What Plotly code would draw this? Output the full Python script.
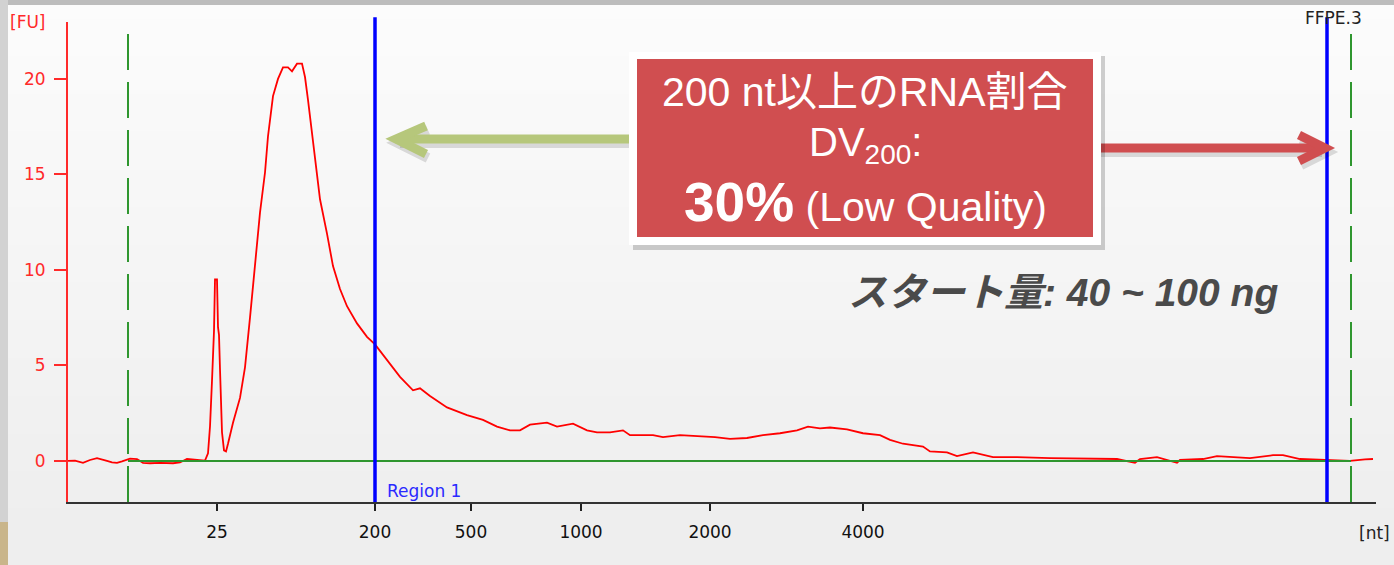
import plotly.graph_objects as go

# ---------------- data (migration time [s] vs fluorescence [FU]) ----------------
time_s = [19.00, 19.28, 19.60, 19.88, 20.16, 20.40, 20.56, 20.76, 20.96, 21.16, 21.48, 21.76,
          22.00, 22.28, 22.68, 23.20, 23.48, 23.76, 24.16, 24.48, 24.60, 24.68, 24.76, 24.84,
          24.88, 24.96, 25.00, 25.04, 25.08, 25.16, 25.24, 25.32, 25.40, 25.60, 25.88, 26.08,
          26.28, 26.48, 26.68, 26.88, 27.00, 27.20, 27.40, 27.60, 27.80, 27.96, 28.16, 28.36,
          28.48, 28.60, 28.76, 28.88, 29.08, 29.36, 29.60, 29.88, 30.16, 30.56, 30.96, 31.28,
          31.76, 32.28, 32.80, 33.08, 33.48, 34.16, 34.96, 35.60, 36.16, 36.68, 37.08, 37.48,
          38.16, 38.56, 39.20, 39.76, 40.16, 40.68, 41.20, 41.48, 42.40, 42.80, 43.48, 44.16,
          44.88, 45.48, 46.16, 46.80, 47.48, 48.16, 48.60, 49.08, 49.48, 50.16, 50.80, 51.48,
          51.88, 52.40, 53.20, 53.48, 54.16, 54.56, 55.20, 56.00, 56.96, 58.28, 59.48, 60.96,
          61.68, 61.88, 62.56, 63.36, 63.48, 64.40, 64.96, 66.28, 67.20, 67.60, 68.28, 69.36,
          70.28, 70.88, 71.20]
fu = [0.00, 0.02, -0.10, 0.05, 0.15, 0.08, 0.00, -0.08, -0.10, -0.02, 0.12, 0.10,
      -0.10, -0.12, -0.10, -0.12, -0.08, 0.10, 0.05, 0.02, 0.40, 1.80, 4.20, 6.80,
      9.50, 9.50, 7.00, 6.60, 4.80, 1.50, 0.55, 0.50, 0.90, 2.00, 3.30, 4.90,
      7.50, 10.20, 13.00, 15.10, 17.00, 19.10, 20.00, 20.60, 20.60, 20.40, 20.80, 20.80,
      20.10, 18.90, 17.20, 15.90, 13.70, 11.90, 10.20, 9.00, 8.10, 7.20, 6.50, 6.10,
      5.30, 4.40, 3.70, 3.80, 3.40, 2.80, 2.40, 2.15, 1.80, 1.60, 1.60, 1.90,
      2.00, 1.80, 1.95, 1.60, 1.50, 1.50, 1.60, 1.35, 1.35, 1.25, 1.35, 1.30,
      1.25, 1.15, 1.20, 1.35, 1.45, 1.60, 1.80, 1.70, 1.75, 1.65, 1.45, 1.35,
      1.10, 0.90, 0.75, 0.50, 0.45, 0.25, 0.45, 0.20, 0.20, 0.15, 0.12, 0.10,
      -0.10, 0.10, 0.20, -0.10, 0.05, 0.10, 0.25, 0.15, 0.30, 0.30, 0.10, 0.05,
      0.00, 0.08, 0.10]

tick_time = [24.96, 31.28, 35.12, 39.52, 44.68, 50.80]
tick_nt = ["25", "200", "500", "1000", "2000", "4000"]
y_ticks = [0, 5, 10, 15, 20]

marker_times = [21.40, 70.32]      # lower / upper marker (green dashed)
region_bounds = [31.28, 69.36]     # Region 1: 200 nt .. end (blue)

# ---------------- layout geometry (pixels) ----------------
W, H = 1394, 565
L, R, T, B = 68, 18, 22, 63
PW, PH = W - L - R, H - T - B


def px(x):
    return (x - L) / PW


def py(y):
    return (H - B - y) / PH


fig = go.Figure()

fig.add_trace(go.Scatter(x=time_s, y=fu, mode="lines",
                         line=dict(color="#ff0000", width=1.8), hoverinfo="skip"))
fig.add_trace(go.Scatter(x=marker_times, y=[0, 0], mode="lines",
                         line=dict(color="#2f962f", width=2), hoverinfo="skip"))

shapes = []
# background gradient bands
n = 30
for i in range(n):
    c = int(252 - (252 - 238) * i / (n - 1))
    shapes.append(dict(type="rect", xref="paper", yref="paper", layer="below",
                       x0=px(0), x1=px(W), y0=py(H * (i + 1) / n + 1), y1=py(H * i / n),
                       line=dict(width=0), fillcolor=f"rgb({c},{c},{c})"))
# top and left frame strips
shapes.append(dict(type="rect", xref="paper", yref="paper", layer="below",
                   x0=px(0), x1=px(W), y0=py(5), y1=py(0), line=dict(width=0),
                   fillcolor="#bdbdbd"))
shapes.append(dict(type="rect", xref="paper", yref="paper", layer="below",
                   x0=px(0), x1=px(8), y0=py(H), y1=py(0), line=dict(width=0),
                   fillcolor="#d2d2d2"))
shapes.append(dict(type="rect", xref="paper", yref="paper", layer="below",
                   x0=px(0), x1=px(8), y0=py(H), y1=py(522), line=dict(width=0),
                   fillcolor="#c9b58a"))

# marker lines (green dashed) and region lines (blue)
for t in marker_times:
    shapes.append(dict(type="line", xref="x", yref="paper", x0=t, x1=t, y0=0, y1=1,
                       line=dict(color="#2f962f", width=2, dash="36px,12px")))
for t in region_bounds:
    shapes.append(dict(type="line", xref="x", yref="paper", x0=t, x1=t, y0=0, y1=1.01,
                       line=dict(color="#0000ff", width=3.5)))


def path(points):
    s = "M " + " L ".join(f"{px(x):.5f},{py(y):.5f}" for x, y in points)
    return s


def arrow(shaft, head, color, shadow=True):
    out = []
    if shadow:
        for pts in (shaft, head):
            out.append(dict(type="path", xref="paper", yref="paper",
                            path=path([(x + 2, y + 4) for x, y in pts]),
                            line=dict(color="rgba(0,0,0,0.13)", width=10)))
    for pts in (shaft, head):
        out.append(dict(type="path", xref="paper", yref="paper", path=path(pts),
                        line=dict(color=color, width=9)))
    return out


# green arrow (pointing left) and red arrow (pointing right)
shapes += arrow([(632, 139), (398, 139)], [(426, 126), (396, 139), (426, 154)], "#b6c77b")
shapes += arrow([(1098, 148), (1320, 148)], [(1299, 135), (1325, 148), (1299, 161)], "#d04e50")

# callout box
shapes.append(dict(type="rect", xref="paper", yref="paper",
                   x0=px(633), x1=px(1105), y0=py(250), y1=py(56), line=dict(width=0),
                   fillcolor="rgba(0,0,0,0.18)"))
shapes.append(dict(type="rect", xref="paper", yref="paper",
                   x0=px(629), x1=px(1101), y0=py(245), y1=py(52), line=dict(width=0),
                   fillcolor="#ffffff"))
shapes.append(dict(type="rect", xref="paper", yref="paper",
                   x0=px(637), x1=px(1093), y0=py(237), y1=py(59), line=dict(width=0),
                   fillcolor="#d04e50"))

fig.update_layout(shapes=shapes)

BOXFONT = "Liberation Sans, Arial, Noto Sans CJK JP"
SMALL = "DejaVu Sans, Verdana"


def ann(x, y, text, size, color, family=SMALL, xanchor="center"):
    fig.add_annotation(xref="paper", yref="paper", x=px(x), y=py(y), text=text,
                       showarrow=False, xanchor=xanchor, yanchor="middle",
                       font=dict(size=size, color=color, family=family))


ann(865, 92, "200 nt以上のRNA割合", 41, "#ffffff", BOXFONT)
ann(865, 145, "DV<sub>200</sub>:", 40, "#ffffff", BOXFONT)
ann(865, 202, "<span style='font-size:55px'><b>30%</b></span> (Low Quality)", 41,
    "#ffffff", BOXFONT)
ann(1063, 292, "<b><i>スタート量: 40 ~ 100 ng</i></b>", 39, "#4a4a4a",
    "Liberation Sans, Noto Sans CJK JP")
ann(28, 22, "[FU]", 17, "#ff2a2a")
ann(1374, 533, "[nt]", 17, "#222222")
ann(1333, 18, "FFPE.3", 17, "#222222")
ann(385, 491, "Region 1", 17, "#2a2aff", xanchor="left")

fig.update_layout(
    width=W, height=H,
    margin=dict(l=L, r=R, t=T, b=B, pad=0),
    paper_bgcolor="#f5f5f5",
    plot_bgcolor="rgba(0,0,0,0)",
    showlegend=False,
    xaxis=dict(range=[19.0, 71.32], tickmode="array", tickvals=tick_time, ticktext=tick_nt,
               ticks="outside", ticklen=7, tickwidth=1.6, tickcolor="#222222",
               showline=True, linecolor="#333333", linewidth=2, showgrid=False,
               zeroline=False, ticklabelstandoff=7,
               tickfont=dict(size=17, color="#111111", family=SMALL)),
    yaxis=dict(range=[-2.15, 22.98], tickmode="array", tickvals=y_ticks,
               ticks="outside", ticklen=12, tickwidth=1.6, tickcolor="#ff2a2a",
               showline=True, linecolor="#ff2a2a", linewidth=2, showgrid=False,
               zeroline=False, ticklabelstandoff=5,
               tickfont=dict(size=17, color="#ff2a2a", family=SMALL)),
)

fig.write_html("out.html")
